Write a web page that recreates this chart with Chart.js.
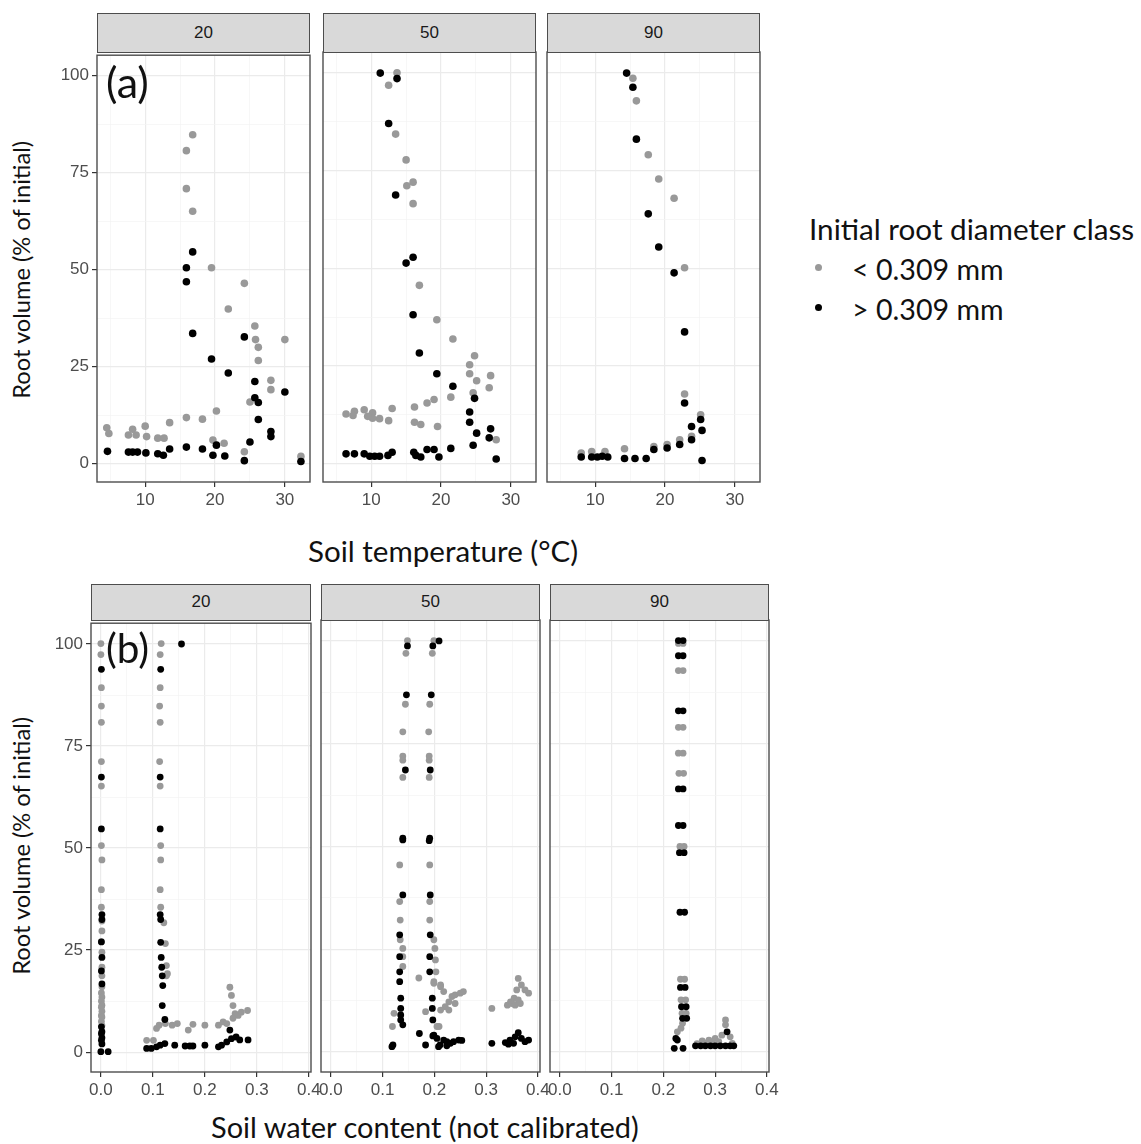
<!DOCTYPE html>
<html>
<head>
<meta charset="utf-8">
<title>Root volume vs soil temperature and water content</title>
<script src="https://cdn.jsdelivr.net/npm/chart.js@4.4.1/dist/chart.umd.min.js"></script>
<style>
  body { margin: 0; background: #fff; }
  #page { position: relative; width: 1141px; height: 1144px; overflow: hidden; background: #fff; }
  .panel { position: absolute; }
  .strip {
    position: absolute; box-sizing: border-box; background: #d9d9d9;
    border: 1.4px solid #4d4d4d; color: #1a1a1a; text-align: center;
    font: 17px "Liberation Sans", Arial, sans-serif;
  }
  .txt { position: absolute; white-space: nowrap; font-family: Lato, "Open Sans", sans-serif; color: #111; line-height: 1; }
  .dot { position: absolute; width: 7px; height: 7px; border-radius: 50%; }
</style>
</head>
<body>
<div id="page"></div>
<script>
// legend / facet labels
const diameterClasses = ["< 0.309 mm", "> 0.309 mm"];
const depthLabels = ["20", "50", "90"];

// axis ticks
const temperatureTicks = [10, 20, 30];
const waterTicks = [0, 0.1, 0.2, 0.3, 0.4];
const volumeTicks = [0, 25, 50, 75, 100];

// (a) soil temperature (°C) vs root volume (% of initial), [x, y]
const temp20Fine = [
  [4.5, 9.3], [4.8, 7.8], [7.6, 7.4], [8.2, 8.9], [8.7, 7.4], [10.0, 9.7], [10.2, 7.0],
  [11.8, 6.6], [12.7, 6.6], [13.5, 10.6], [15.9, 11.9], [18.2, 11.5], [20.2, 13.6],
  [19.7, 6.1], [21.3, 5.3], [24.2, 3.1], [15.9, 80.7], [16.8, 84.8], [15.9, 70.9],
  [16.8, 65.1], [19.5, 50.5], [24.2, 46.5], [21.9, 39.9], [25.7, 35.5], [25.8, 32.0],
  [26.2, 30.0], [26.2, 26.6], [30.0, 32.0], [28.0, 21.5], [28.0, 19.1], [25.0, 15.9],
  [32.3, 1.9]
];
const temp20Coarse = [
  [4.6, 3.2], [7.6, 3.0], [8.2, 3.0], [8.9, 3.0], [10.1, 2.8], [11.8, 2.6], [12.6, 2.2],
  [13.5, 3.8], [15.9, 4.3], [18.2, 3.8], [19.7, 2.2], [20.2, 4.8], [21.4, 2.0], [24.2, 0.8],
  [25.0, 5.6], [26.2, 11.4], [26.2, 15.8], [25.7, 17.0], [25.7, 21.2], [24.2, 32.7],
  [21.9, 23.4], [19.5, 27.0], [16.8, 33.6], [15.9, 46.9], [15.9, 50.5], [16.8, 54.6],
  [28.0, 8.3], [28.0, 7.0], [30.0, 18.5], [32.3, 0.6]
];
const temp50Fine = [
  [13.7, 100.0], [12.5, 96.8], [13.5, 84.3], [15.0, 77.7], [15.1, 71.1], [16.0, 72.0],
  [16.0, 66.5], [16.9, 45.6], [19.4, 36.8], [21.7, 31.9], [24.8, 27.6], [24.1, 25.3],
  [24.1, 23.0], [25.1, 21.2], [27.1, 22.5], [26.9, 19.4], [24.6, 18.1], [21.4, 17.0],
  [19.0, 16.4], [18.0, 15.5], [16.2, 14.5], [13.0, 14.1], [12.5, 11.0], [11.2, 11.5],
  [10.2, 13.0], [10.2, 11.6], [9.5, 12.1], [9.0, 13.8], [7.6, 13.4], [7.4, 12.3],
  [6.4, 12.7], [16.2, 10.6], [17.1, 10.0], [19.5, 9.5], [27.9, 6.1]
];
const temp50Coarse = [
  [11.3, 99.9], [13.7, 98.5], [12.5, 87.0], [13.5, 68.7], [15.0, 51.3], [16.0, 52.8],
  [16.0, 38.1], [16.9, 28.3], [19.4, 23.0], [21.7, 19.8], [24.8, 16.7], [24.1, 13.2],
  [24.1, 10.6], [25.1, 7.8], [27.1, 8.9], [26.9, 6.6], [24.6, 4.7], [21.4, 3.9],
  [27.9, 1.2], [6.4, 2.5], [7.6, 2.5], [9.0, 2.5], [9.8, 1.9], [10.5, 1.9], [11.2, 1.9],
  [12.4, 2.1], [13.0, 2.9], [16.1, 2.9], [16.4, 2.1], [17.1, 1.7], [18.0, 3.6],
  [19.0, 3.6], [19.7, 1.7]
];
const temp90Fine = [
  [15.4, 98.6], [15.9, 92.8], [17.6, 79.0], [19.1, 72.8], [21.3, 67.9], [22.8, 50.1],
  [22.8, 17.8], [25.1, 12.5], [23.8, 7.0], [22.1, 6.1], [20.3, 4.9], [18.4, 4.4],
  [14.2, 3.8], [8.0, 2.7], [9.5, 3.1], [11.4, 3.1]
];
const temp90Coarse = [
  [14.5, 99.9], [15.4, 96.3], [15.9, 83.0], [17.6, 63.9], [19.1, 55.4], [21.3, 48.8],
  [22.8, 33.7], [22.8, 15.5], [25.1, 11.3], [25.3, 8.5], [23.8, 9.5], [23.8, 6.1],
  [22.1, 4.9], [20.3, 4.0], [18.4, 3.6], [17.3, 1.3], [15.7, 1.3], [14.2, 1.3],
  [25.3, 0.8], [8.0, 1.7], [9.5, 1.7], [10.3, 1.7], [11.0, 1.9], [11.8, 1.7]
];

// (b) soil water content (not calibrated) vs root volume (% of initial), [x, y]
const water20Fine = [
  [0.000, 100.1], [0.000, 97.4], [0.001, 89.3], [0.001, 84.8], [0.001, 80.8], [0.001, 71.2],
  [0.001, 65.2], [0.001, 50.6], [0.002, 47.1], [0.001, 39.8], [0.001, 35.5], [0.002, 32.1],
  [0.002, 29.7], [0.001, 27.1], [0.002, 24.5], [0.002, 20.8], [0.002, 18.7], [0.002, 16.0],
  [0.001, 14.5], [0.002, 13.5], [0.001, 12.5], [0.002, 11.5], [0.001, 11.0], [0.002, 10.0],
  [0.001, 9.0], [0.002, 8.6], [0.001, 7.5], [0.002, 6.5],
  [0.116, 100.1], [0.114, 97.4], [0.114, 89.3], [0.113, 84.8], [0.114, 80.8], [0.113, 71.2],
  [0.114, 65.2], [0.115, 50.6], [0.115, 47.1], [0.114, 39.8], [0.115, 35.5], [0.121, 31.7],
  [0.124, 26.6], [0.126, 21.2], [0.128, 19.2], [0.126, 18.7], [0.124, 7.0],
  [0.088, 2.9], [0.101, 2.9], [0.107, 5.8], [0.112, 6.6], [0.137, 6.6], [0.147, 7.0],
  [0.168, 5.4], [0.177, 6.8], [0.200, 6.6], [0.226, 6.6], [0.235, 7.4], [0.242, 7.0],
  [0.248, 15.9], [0.251, 13.9], [0.254, 11.4], [0.258, 9.4], [0.264, 9.0], [0.254, 8.3],
  [0.270, 9.8], [0.282, 10.2]
];
const water20Coarse = [
  [0.001, 93.8], [0.001, 67.4], [0.001, 54.7], [0.002, 33.7], [0.002, 32.5], [0.001, 27.0],
  [0.002, 23.2], [0.001, 19.9], [0.002, 16.7], [0.001, 6.2], [0.002, 5.0], [0.001, 4.5],
  [0.002, 3.5], [0.001, 2.9], [0.002, 2.0], [0.000, 0.1], [0.014, 0.1],
  [0.115, 93.8], [0.114, 67.4], [0.114, 54.7], [0.114, 33.7], [0.115, 32.5], [0.115, 26.9],
  [0.116, 23.2], [0.117, 20.8], [0.118, 18.7], [0.119, 16.3], [0.118, 11.4], [0.123, 8.0],
  [0.155, 100.0],
  [0.088, 0.9], [0.097, 0.9], [0.107, 1.3], [0.114, 1.7], [0.123, 2.1], [0.142, 1.7],
  [0.162, 1.5], [0.171, 1.5], [0.177, 1.5], [0.200, 1.7], [0.226, 1.3], [0.232, 1.7],
  [0.242, 2.5], [0.248, 5.4], [0.251, 3.3], [0.260, 3.7], [0.267, 3.0], [0.283, 3.0]
];
const water50Fine = [
  [0.148, 100.1], [0.145, 97.0], [0.144, 84.6], [0.139, 77.9], [0.139, 72.0], [0.139, 71.0],
  [0.139, 66.8], [0.133, 45.5], [0.133, 36.6], [0.134, 32.1], [0.134, 27.3], [0.139, 25.2],
  [0.139, 23.2], [0.139, 20.8], [0.122, 9.4], [0.119, 6.2],
  [0.199, 100.1], [0.196, 97.0], [0.191, 84.6], [0.189, 77.9], [0.190, 72.0], [0.190, 71.0],
  [0.190, 66.8], [0.191, 45.5], [0.191, 36.6], [0.191, 32.1], [0.199, 27.3], [0.201, 25.2],
  [0.202, 22.4], [0.203, 19.5], [0.199, 17.1], [0.212, 15.9], [0.209, 6.2], [0.183, 9.8],
  [0.170, 18.0],
  [0.199, 16.7], [0.212, 16.3], [0.218, 14.7], [0.228, 12.2], [0.221, 11.0], [0.234, 13.5],
  [0.240, 13.9], [0.250, 14.3], [0.256, 14.7], [0.240, 11.8], [0.228, 10.2], [0.212, 10.2],
  [0.205, 6.2],
  [0.311, 10.6], [0.362, 17.9], [0.368, 16.3], [0.359, 15.1], [0.375, 15.1], [0.382, 14.3],
  [0.354, 13.1], [0.362, 12.7], [0.347, 12.2], [0.341, 11.4], [0.350, 11.8], [0.356, 11.4],
  [0.366, 11.8]
];
const water50Coarse = [
  [0.148, 98.8], [0.146, 86.9], [0.144, 68.6], [0.139, 52.0], [0.139, 51.6], [0.139, 38.2],
  [0.133, 28.5], [0.133, 23.2], [0.133, 19.5], [0.133, 17.1], [0.135, 13.1], [0.135, 10.6],
  [0.135, 9.0], [0.135, 7.8], [0.139, 6.6], [0.120, 1.7], [0.118, 1.3],
  [0.209, 100.0], [0.197, 98.8], [0.194, 86.9], [0.192, 68.6], [0.191, 52.0], [0.190, 51.4],
  [0.192, 38.2], [0.192, 28.5], [0.191, 23.2], [0.191, 19.5], [0.196, 13.1], [0.196, 10.6],
  [0.197, 7.8], [0.197, 3.9], [0.171, 4.5], [0.183, 1.7],
  [0.199, 4.1], [0.205, 3.3], [0.208, 1.3], [0.218, 2.9], [0.224, 2.5], [0.231, 2.1],
  [0.237, 2.5], [0.247, 2.9], [0.253, 2.8], [0.211, 1.7], [0.224, 1.5],
  [0.311, 2.1], [0.337, 2.3], [0.346, 2.9], [0.356, 3.7], [0.362, 4.7], [0.368, 3.3],
  [0.375, 2.5], [0.382, 2.9], [0.353, 2.1], [0.343, 1.9]
];
const water90Fine = [
  [0.229, 99.4], [0.238, 99.4], [0.229, 92.8], [0.238, 92.8], [0.229, 79.0], [0.238, 79.0],
  [0.229, 72.7], [0.238, 72.7], [0.230, 67.8], [0.239, 67.8], [0.232, 50.0], [0.240, 50.0],
  [0.233, 17.7], [0.241, 17.7], [0.234, 12.7], [0.243, 12.7], [0.236, 9.4], [0.244, 9.4],
  [0.237, 7.0], [0.234, 5.8], [0.227, 4.9],
  [0.320, 7.8], [0.320, 6.6], [0.313, 4.1], [0.329, 3.7], [0.300, 3.3], [0.288, 2.9],
  [0.275, 2.7], [0.333, 2.1], [0.307, 2.5], [0.294, 2.3], [0.265, 2.0], [0.284, 2.2]
];
const water90Coarse = [
  [0.229, 100.1], [0.238, 100.1], [0.229, 96.4], [0.238, 96.4], [0.229, 83.0], [0.238, 83.0],
  [0.229, 64.0], [0.238, 64.0], [0.229, 55.1], [0.238, 55.1], [0.231, 48.5], [0.240, 48.5],
  [0.232, 34.0], [0.241, 34.0], [0.233, 15.7], [0.242, 15.7], [0.235, 11.0], [0.244, 11.0],
  [0.237, 8.2], [0.245, 8.2], [0.221, 0.9], [0.238, 0.9], [0.224, 3.3], [0.227, 2.9],
  [0.262, 1.5], [0.272, 1.5], [0.281, 1.5], [0.291, 1.5], [0.300, 1.5], [0.310, 1.5],
  [0.320, 1.5], [0.329, 1.5], [0.336, 1.5], [0.323, 4.9]
];

const page = document.getElementById("page");
const tickFont = { family: "Liberation Sans, Arial, sans-serif", size: 17 };

// major ticks + half-step minor grid lines
function withMinor(major, min, max) {
  const step = major[1] - major[0];
  const all = [];
  for (let i = -1; i < major.length; i++) {
    const v = major[0] + (i + 0.5) * step;
    if (i >= 0) all.push({ value: major[i], major: true });
    if (v > min && v < max) all.push({ value: v, major: false });
  }
  return all.filter((t) => t.value >= min && t.value <= max).sort((a, b) => a.value - b.value);
}

function axis(min, max, major, showLabels, size, fmt) {
  return {
    type: "linear",
    min: min,
    max: max,
    afterBuildTicks: (s) => { s.ticks = withMinor(major, min, max); },
    afterFit: (s) => { if (s.isHorizontal()) s.height = size; else s.width = size; },
    border: { display: false },
    grid: {
      color: (c) => (c.tick && c.tick.major ? "#ebebeb" : "#f4f4f4"),
      lineWidth: (c) => (c.tick && c.tick.major ? 1.2 : 0.7),
      drawTicks: showLabels,
      tickLength: 5,
      tickWidth: 1.2,
      tickColor: (c) => (c.tick && c.tick.major ? "#333333" : "rgba(0,0,0,0)"),
    },
    ticks: {
      display: showLabels,
      autoSkip: false,
      maxRotation: 0,
      padding: 3,
      color: "#4d4d4d",
      font: tickFont,
      callback: (v, i, ticks) => (ticks[i].major ? fmt(v) : ""),
    },
  };
}

const panelBorder = {
  id: "panelBorder",
  afterDraw(chart) {
    const { ctx, chartArea: a } = chart;
    ctx.save();
    ctx.strokeStyle = "#4d4d4d";
    ctx.lineWidth = 1.4;
    ctx.strokeRect(a.left, a.top, a.right - a.left, a.bottom - a.top);
    ctx.restore();
  },
};

const toXY = (pts) => pts.map((p) => ({ x: p[0], y: p[1] }));

function panel(p) {
  const padL = 48, padR = 18, padT = 10, padB = 36;
  const w = p.right - p.left, h = p.bottom - p.top;
  const box = document.createElement("div");
  box.className = "panel";
  box.style.left = p.left - padL + "px";
  box.style.top = p.top - padT + "px";
  const cv = document.createElement("canvas");
  cv.width = w + padL + padR;
  cv.height = h + padT + padB;
  box.appendChild(cv);
  page.appendChild(box);

  const strip = document.createElement("div");
  strip.className = "strip";
  strip.style.left = p.left + "px";
  strip.style.top = p.stripTop + "px";
  strip.style.width = w + "px";
  strip.style.height = p.top - p.stripTop + 1 + "px";
  strip.style.lineHeight = p.top - p.stripTop - 2 + "px";
  strip.textContent = p.label;
  page.appendChild(strip);

  new Chart(cv, {
    type: "scatter",
    data: {
      datasets: [
        { label: diameterClasses[1], data: toXY(p.coarse), backgroundColor: "#000000", pointRadius: p.r, borderWidth: 0, order: 0 },
        { label: diameterClasses[0], data: toXY(p.fine), backgroundColor: "#999999", pointRadius: p.r, borderWidth: 0, order: 1 },
      ],
    },
    options: {
      responsive: false,
      animation: false,
      devicePixelRatio: 1,
      events: [],
      layout: { padding: { top: padT, right: padR, left: 0, bottom: 0 } },
      plugins: { legend: { display: false }, tooltip: { enabled: false } },
      scales: {
        x: axis(p.xMin, p.xMax, p.xTicks, true, padB, p.xFmt),
        y: axis(p.yMin, p.yMax, volumeTicks, p.yLabels, padL, (v) => String(v)),
      },
    },
    plugins: [panelBorder],
  });
}

const tempPanels = [[97, 310], [323, 536], [547, 760]];
const tempData = [[temp20Fine, temp20Coarse], [temp50Fine, temp50Coarse], [temp90Fine, temp90Coarse]];
tempPanels.forEach((lr, i) => panel({
  left: lr[0], right: lr[1], top: 52, bottom: 482, stripTop: 13, label: depthLabels[i],
  xMin: 3.1, xMax: 33.6, xTicks: temperatureTicks, xFmt: (v) => String(v),
  yMin: -4.7, yMax: 105.3, yLabels: i === 0, r: 3.8,
  fine: tempData[i][0], coarse: tempData[i][1],
}));

const waterPanels = [[91, 311], [321, 540], [550, 769]];
const waterData = [[water20Fine, water20Coarse], [water50Fine, water50Coarse], [water90Fine, water90Coarse]];
waterPanels.forEach((lr, i) => panel({
  left: lr[0], right: lr[1], top: 620, bottom: 1072, stripTop: 584, label: depthLabels[i],
  xMin: -0.019, xMax: 0.404, xTicks: waterTicks, xFmt: (v) => v.toFixed(1),
  yMin: -4.87, yMax: 105.1, yLabels: i === 0, r: 3.4,
  fine: waterData[i][0], coarse: waterData[i][1],
}));

// plain text: titles, panel tags, legend
function text(str, opts) {
  const el = document.createElement("div");
  el.className = "txt";
  el.textContent = str;
  el.style.fontSize = (opts.size || 22) + "px";
  page.appendChild(el);
  if (opts.width) el.style.fontSize = (opts.size || 22) * opts.width / el.offsetWidth + "px";
  const w = el.offsetWidth, h = el.offsetHeight;
  if (opts.rotate) {
    el.style.left = opts.cx - w / 2 + "px";
    el.style.top = opts.cy - h / 2 + "px";
    el.style.transform = "rotate(-90deg)";
  } else if (opts.cx !== undefined) {
    el.style.left = opts.cx - w / 2 + "px";
    el.style.top = opts.cy - h / 2 + "px";
  } else {
    el.style.left = opts.x + "px";
    el.style.top = opts.cy - h / 2 + "px";
  }
  return el;
}

text("Root volume (% of initial)", { cx: 22, cy: 270, width: 258, rotate: true });
text("Root volume (% of initial)", { cx: 22, cy: 846, width: 258, rotate: true });
text("Soil temperature (°C)", { cx: 443, cy: 551, width: 270 });
text("Soil water content (not calibrated)", { cx: 425, cy: 1127, width: 428 });
text("(a)", { x: 106, cy: 81, size: 32, width: 43 });
text("(b)", { x: 106, cy: 648, size: 32, width: 43 });

text("Initial root diameter class", { x: 809, cy: 229, width: 325 });
text(diameterClasses[0], { x: 852, cy: 269, width: 151 });
text(diameterClasses[1], { x: 852, cy: 309, width: 151 });
[["#999999", 267], ["#000000", 307]].forEach(([c, y]) => {
  const d = document.createElement("div");
  d.className = "dot";
  d.style.background = c;
  d.style.left = 815 + "px";
  d.style.top = y - 3.5 + "px";
  page.appendChild(d);
});
</script>
</body>
</html>
